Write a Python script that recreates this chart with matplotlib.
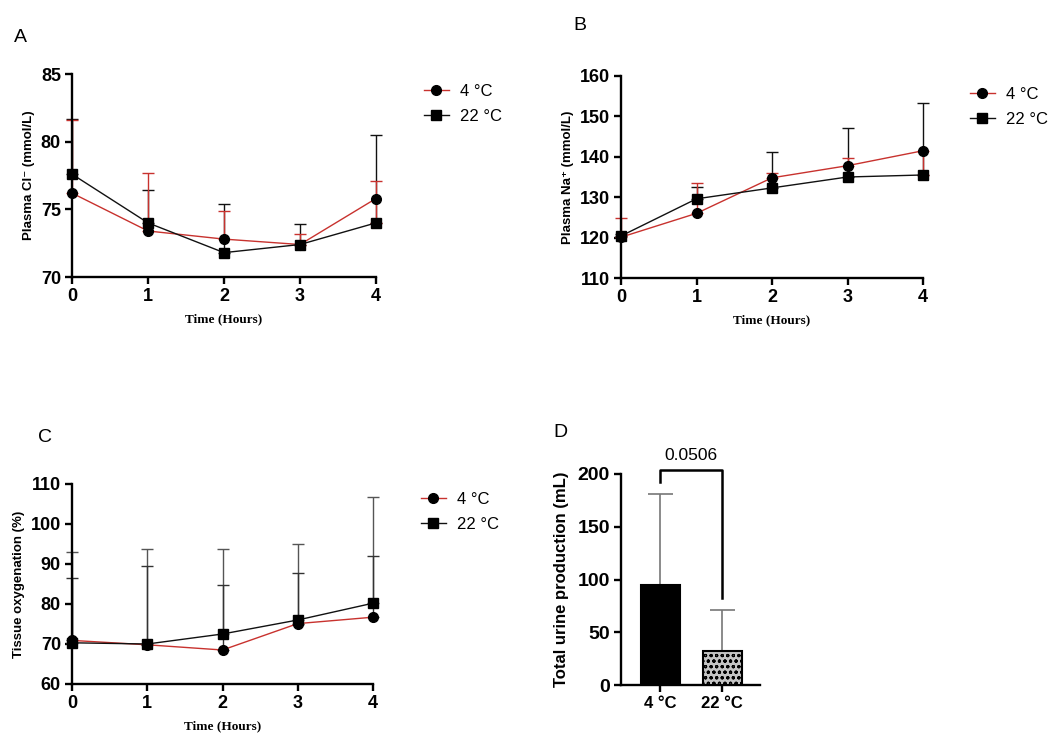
import matplotlib
matplotlib.use("Agg")
import matplotlib.pyplot as plt
import numpy as np

# ---------------- data ----------------
hours = [0, 1, 2, 3, 4]
series_labels = ["4 °C", "22 °C"]

cl_4 = [76.2, 73.4, 72.8, 72.4, 75.8]
cl_4_err = [5.4, 4.3, 2.1, 0.8, 1.3]
cl_4_low = [0, 0, 0, 0, 1.8]
cl_22 = [77.6, 74.0, 71.8, 72.4, 74.0]
cl_22_err = [4.1, 2.4, 3.6, 1.5, 6.5]

na_4 = [120.1, 126.0, 134.8, 137.8, 141.5]
na_4_err = [4.8, 7.6, 1.2, 1.8, 0.0]
na_4_low = [0, 0, 0, 0, 6.0]
na_22 = [120.4, 129.6, 132.3, 135.0, 135.5]
na_22_err = [0.5, 2.9, 8.9, 12.2, 17.7]

ox_4 = [70.9, 69.8, 68.5, 75.1, 76.7]
ox_4_err = [15.6, 19.7, 16.3, 12.7, 15.3]
ox_22 = [70.3, 70.0, 72.5, 76.0, 80.2]
ox_22_err = [22.7, 23.8, 21.3, 19.0, 26.5]

urine_groups = ["4 °C", "22 °C"]
urine_mean = [95, 32]
urine_err = [86, 39]
p_value = "0.0506"

# ---------------- style ----------------
RED = "#c8322e"
BLACK = "#111111"
SANS = ["Liberation Sans", "DejaVu Sans"]
SERIF = ["Liberation Serif", "DejaVu Serif"]
plt.rcParams["font.family"] = SANS
plt.rcParams["hatch.color"] = "#555555"
plt.rcParams["hatch.linewidth"] = 0.8

fig = plt.figure(figsize=(10.6, 7.44), dpi=100)


def px_axes(left, top, right, bottom):
    W, H = 1060.0, 744.0
    return fig.add_axes([left / W, 1 - bottom / H, (right - left) / W, (bottom - top) / H])


def style_axes(ax, tick_size=13):
    for s in ["top", "right"]:
        ax.spines[s].set_visible(False)
    for s in ["left", "bottom"]:
        ax.spines[s].set_linewidth(1.7)
        ax.spines[s].set_color("black")
    ax.tick_params(axis="both", width=1.7, length=5, labelsize=tick_size, direction="out", pad=3)
    for lab in ax.get_xticklabels() + ax.get_yticklabels():
        lab.set_fontweight("bold")


def line_panel(ax, y4, e4, l4, y22, e22, ylim, yticks, ylabel, err_colors=(RED, BLACK)):
    ax.errorbar(hours, y22, yerr=[np.zeros(len(hours)), e22], fmt="none",
                ecolor=err_colors[1], elinewidth=1.0, capsize=4, capthick=1.0, zorder=2)
    ax.errorbar(hours, y4, yerr=[l4, e4], fmt="none",
                ecolor=err_colors[0], elinewidth=1.0, capsize=4, capthick=1.0, zorder=2)
    h1, = ax.plot(hours, y4, color=RED, lw=1.0, marker="o", ms=7,
                  mfc="black", mec="black", zorder=4, label=series_labels[0])
    h2, = ax.plot(hours, y22, color=BLACK, lw=1.0, marker="s", ms=7,
                  mfc="black", mec="black", zorder=5, label=series_labels[1])
    ax.set_xlim(0, 4)
    ax.set_ylim(*ylim)
    ax.set_xticks(hours)
    ax.set_yticks(yticks)
    ax.set_ylabel(ylabel, fontsize=9.5, fontweight="bold", labelpad=4)
    ax.set_xlabel("Time (Hours)", fontsize=9.5, fontweight="bold", family=SERIF, labelpad=6)
    style_axes(ax)
    for art in ax.lines + ax.collections:
        art.set_clip_on(False)
    return h1, h2


def add_legend(ax, handles, x, y):
    ax.legend(handles=handles, loc="upper left", bbox_to_anchor=(x / 1060, 1 - y / 744),
              bbox_transform=fig.transFigure, frameon=False, fontsize=12,
              handlelength=1.5, handletextpad=0.7, labelspacing=0.6, borderaxespad=0)


# Panel A
axA = px_axes(72, 74, 376, 277)
hA = line_panel(axA, cl_4, cl_4_err, cl_4_low, cl_22, cl_22_err,
                (70, 85), [70, 75, 80, 85], "Plasma Cl\u207b (mmol/L)")
add_legend(axA, hA, 417, 77)

# Panel B
axB = px_axes(621, 76, 923, 278)
hB = line_panel(axB, na_4, na_4_err, na_4_low, na_22, na_22_err,
                (110, 160), [110, 120, 130, 140, 150, 160], "Plasma Na\u207a (mmol/L)")
add_legend(axB, hB, 963, 80)

# Panel C
axC = px_axes(72, 484, 373, 684)
hC = line_panel(axC, ox_4, ox_4_err, [0] * 5, ox_22, ox_22_err,
                (60, 110), [60, 70, 80, 90, 100, 110], "Tissue oxygenation (%)",
                err_colors=("#333333", "#555555"))
add_legend(axC, hC, 414, 485)

# Panel D
axD = px_axes(621, 474, 760, 685)
xpos = np.arange(len(urine_groups))
axD.errorbar(xpos, urine_mean, yerr=[np.zeros(2), urine_err], fmt="none",
             ecolor="#777777", elinewidth=1.2, capsize=9, capthick=1.2, zorder=1)
bars = axD.bar(xpos, urine_mean, width=0.63, color=["black", "#c4c4c4"],
               edgecolor="black", linewidth=1.5, zorder=3)
bars[1].set_hatch("ooo")
axD.set_xlim(-0.63, 1.61)
axD.set_ylim(0, 200)
axD.set_yticks([0, 50, 100, 150, 200])
axD.set_xticks(xpos)
axD.set_xticklabels(urine_groups)
axD.set_ylabel("Total urine production (mL)", fontsize=12, fontweight="bold", labelpad=6)
style_axes(axD, tick_size=14)
axD.tick_params(axis="x", labelsize=12)
axD.plot([0, 0, 1, 1], [192, 204, 204, 82], color="black", lw=1.8, clip_on=False)
axD.text(0.5, 210, p_value, ha="center", va="bottom", fontsize=12.5)

# panel letters
for letter, x, y in [("A", 14, 37), ("B", 573, 25), ("C", 38, 437), ("D", 553, 432)]:
    fig.text(x / 1060, 1 - y / 744, letter, fontsize=14, ha="left", va="center")

fig.savefig("out.png", dpi=100)
